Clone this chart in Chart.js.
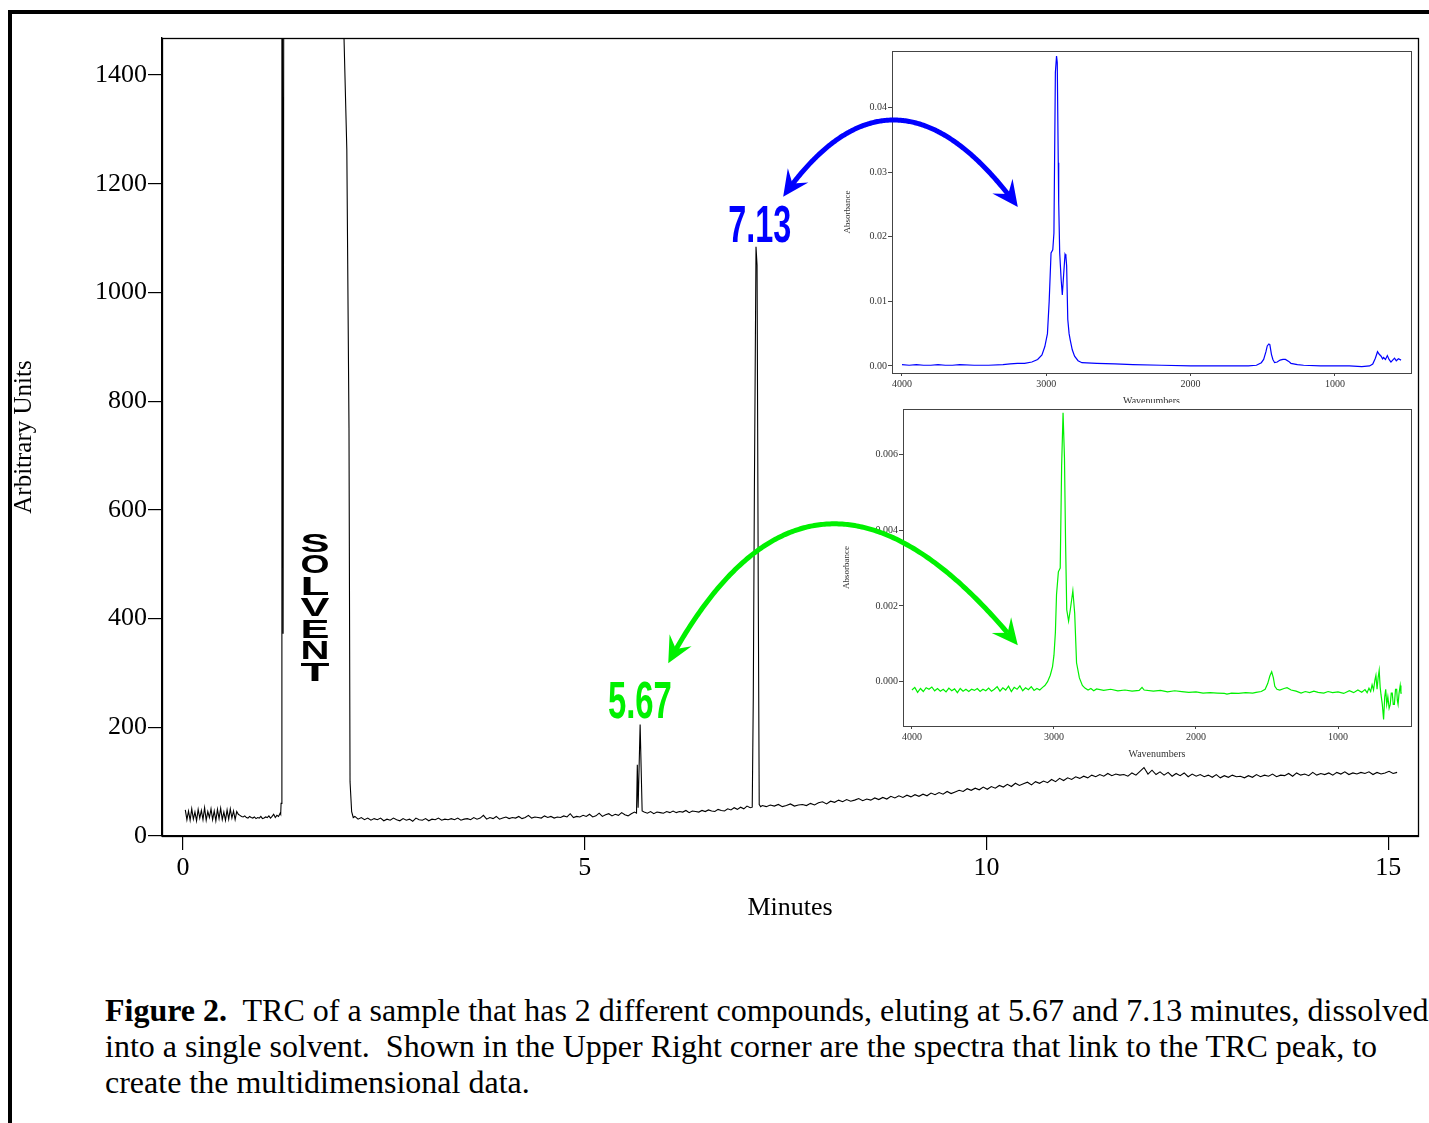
<!DOCTYPE html>
<html>
<head>
<meta charset="utf-8">
<script src="https://cdn.jsdelivr.net/npm/chart.js@4.4.1/dist/chart.umd.min.js"></script>
<style>
html, body { margin: 0; padding: 0; background: #fff; }
body { width: 1429px; height: 1123px; position: relative; overflow: hidden; }
#frame { position: absolute; left: 8px; top: 10px; width: 1500px; height: 1200px; border-top: 4px solid #000; border-left: 4px solid #000; }
canvas { position: absolute; }
#main { left: 0; top: 0; z-index: 3; }
#ir1 { left: 840px; top: 40px; z-index: 1; }
#ir2 { left: 840px; top: 402px; z-index: 2; }
#caption { position: absolute; left: 105px; top: 992px; font-family: "Liberation Serif", "Times New Roman", serif; font-size: 32px; line-height: 36px; white-space: pre; color: #000; }
</style>
</head>
<body>
<div id="frame"></div>
<canvas id="ir1" width="580" height="363"></canvas>
<canvas id="ir2" width="580" height="362"></canvas>
<canvas id="main" width="1429" height="930"></canvas>
<div id="caption"><b>Figure 2.</b>  TRC of a sample that has 2 different compounds, eluting at 5.67 and 7.13 minutes, dissolved
into a single solvent.  Shown in the Upper Right corner are the spectra that link to the TRC peak, to
create the multidimensional data.</div>

<script>
// --- datos del cromatograma (TRC) ---
const xTicksMain = [0, 5, 10, 15];
const yTicksMain = [0, 200, 400, 600, 800, 1000, 1200, 1400];

// ruido inicial, desde 0.03 min cada 0.02 min
const earlyNoise = [48,30,46,29,50,31,44,28,49,33, 47,30,52,29,45,34,50,30,46,28,
  49,32,51,30,44,29,48,31,50,33, 46,30,45,40,
  38,36,35,37,34,33,36,34,33,35, 32,34,33,36,32,33,35,34,37,33, 36,40,34,38,36,42];

// pico del disolvente (sale por arriba)
const solventMinutes = [1.217, 1.222, 1.232, 1.247, 1.262, 2.000, 2.005, 2.040, 2.067, 2.080, 2.100, 2.120];
const solventSignal  = [40, 60, 2400, 372, 2600, 2600, 1468, 1262, 750, 100, 45, 34];

// linea base 2.14 -> 5.62 cada 0.04
const midBaseline = [36,31,34,30,33,29,32,30,33,28, 31,29,33,30,28,32,29,31,27,33,
  30,29,32,28,31,30,33,29,31,30, 32,30,33,29,31,32,30,34,31,33,
  38,31,34,32,36,31,33,35,32,34, 33,36,32,34,38,33,35,34,33,37,
  34,36,33,35,34,37,35,41,34,36, 35,38,36,40,35,37,42,36,39,41,
  37,40,38,43,39,37,41,44];

const peak567Minutes = [5.645, 5.655, 5.665, 5.690, 5.715];
const peak567Signal  = [42, 131, 52, 205, 46];

// linea base 5.74 -> 7.06 cada 0.04
const preBaseline = [44,42,45,41,44,43,42,45,43,46, 43,45,44,47,43,46,45,44,47,45,
  48,46,45,49,47,46,50,48,52,49, 53,50,55,52];

const peak713Minutes = [7.085, 7.098, 7.112, 7.132, 7.145, 7.160, 7.172, 7.190];
const peak713Signal  = [53, 252, 640, 1084, 1050, 452, 58, 54];

// linea base 7.21 -> 15.11 cada 0.05
const lateBaseline = [56,54,57,55,58,54,56,59,55,57, 58,56,60,57,61,63,59,64,62,66,
  63,67,64,66,69,65,68,66,70,67, 71,68,73,70,74,71,75,72,76,73,
  77,74,79,76,80,77,82,78,81,84, 82,87,84,88,85,90,86,91,88,93,
  90,95,91,97,93,96,99,94,100,97, 101,98,104,100,106,102,107,104,109,106,
  110,107,112,109,113,110,115,111,114,112, 113,110,116,112,119,126,114,121,113,118,
  112,117,110,115,111,116,109,114,110,113, 109,112,108,113,107,111,108,112,109,110,
  107,111,108,113,109,112,110,114,109,112, 111,115,110,116,112,114,111,117,112,115,
  113,116,112,117,114,118,113,116,114,117, 115,118,113,117,114,116,119,115,117];

// --- espectro IR del pico 7.13 (azul) ---
const blueWavenumbers = [4000,3950,3900,3850,3800,3750,3700,3650,3600,3500,3400,3300,3250,3200,3150,3100,3060,3030,3010,2992,
  2980,2967,2955,2947,2937,2929,2924,2917,2914,2907,2897,2889,2879,2870,2864,2859,2851,2842,2834,2820,
  2804,2780,2753,2650,2526,2400,2200,2000,1800,1600,1544,1510,1494,1478,1469,1458,1451,1440,1430,1418,
  1400,1380,1360,1343,1320,1305,1260,1217,1100,1000,900,814,760,738,720,705,693,680,670,663,
  650,637,625,612,600,587,575,560,542];
const blueAbsorbance = [0.0002,0.0001,0.0002,0.0001,0.0001,0.0002,0.0001,0.0001,0.0002,0.0001,0.0001,0.0002,0.0003,0.0004,0.0004,0.0006,0.0010,0.0017,0.0030,0.0050,
  0.0100,0.0175,0.0180,0.0206,0.0455,0.0480,0.0470,0.0315,0.0253,0.0175,0.0134,0.0110,0.0144,0.0173,0.0170,0.0155,0.0072,0.0050,0.0040,0.0025,
  0.0015,0.0008,0.0005,0.0004,0.0003,0.0002,0.0001,0.0000,0.0000,0.0000,0.0001,0.0005,0.0010,0.0022,0.0031,0.0034,0.0033,0.0018,0.0010,0.0005,
  0.0006,0.0009,0.0010,0.0010,0.0007,0.0004,0.0002,0.0001,0.0000,0.0000,0.0000,-0.0001,0.0000,0.0003,0.0012,0.0022,0.0018,0.0015,0.0011,0.0013,
  0.0010,0.0016,0.0010,0.0006,0.0009,0.0012,0.0008,0.0011,0.0009];

// --- espectro IR del pico 5.67 (verde) ---
const greenWavenumbers = [4000,3980,3960,3940,3920,3900,3880,3860,3840,3820,3800,3780,3760,3740,3720,3700,3680,3660,3640,3620,
  3600,3580,3560,3540,3520,3500,3480,3460,3440,3420,3400,3380,3360,3340,3320,3300,3280,3260,3240,3220,
  3200,3180,3160,3140,3120,3100,3080,3064,3045,3026,3010,3000,2990,2982,2969,2956,2946,2936,2926,2918,
  2910,2897,2885,2867,2854,2841,2821,2800,2782,2760,2740,2720,2700,2650,2600,2550,2500,2450,2400,2380,
  2365,2300,2250,2200,2150,2100,2050,2000,1950,1900,1850,1800,1782,1750,1700,1650,1600,1577,1540,1513,
  1495,1480,1467,1455,1445,1430,1410,1380,1359,1330,1295,1260,1230,1200,1170,1140,1100,1070,1038,1000,
  960,920,890,860,833,810,795,782,770,760,750,740,733,725,717,710,703,697,688,679,
  671,664,657,649,640,632,625,618,611,603,595,587,582,577,570,562,557,551];
const greenAbsorbance = [-0.00022,-0.00015,-0.00028,-0.00018,-0.00026,-0.00016,-0.0002,-0.00014,-0.00024,-0.00018,
  -0.00025,-0.0002,-0.00027,-0.00017,-0.00024,-0.00019,-0.00029,-0.00018,-0.00025,-0.0002,
  -0.00026,-0.0002,-0.00023,-0.00018,-0.00026,-0.0002,-0.00024,-0.00017,-0.00025,-0.0002,
  -0.00013,-0.00025,-0.00016,-0.00022,-0.00012,-0.00026,-0.00015,-0.0002,-0.00011,-0.00024,
  -0.00016,-0.00021,-0.00013,-0.00023,-0.00018,-0.00022,-0.00015,-0.0001,0.0,0.00017,
  0.0004,0.0007,0.0013,0.0023,0.0029,0.0030,0.0057,0.0071,0.0059,0.0036,
  0.0019,0.0016,0.0019,0.0024,0.0018,0.0005,0.0001,-0.0001,-0.00017,-0.00022,
  -0.00018,-0.00024,-0.00019,-0.00023,-0.0002,-0.00024,-0.00022,-0.00025,-0.00023,-0.00015,
  -0.00022,-0.00025,-0.00023,-0.00027,-0.00024,-0.00026,-0.00028,-0.00027,-0.0003,-0.00029,
  -0.0003,-0.00031,-0.00033,-0.0003,-0.00031,-0.00029,-0.0003,-0.00028,-0.00026,-0.0002,
  -0.00005,0.00015,0.00026,0.0001,-0.00012,-0.0002,-0.00022,-0.00018,-0.00016,-0.00022,
  -0.00025,-0.0003,-0.00026,-0.00029,-0.00025,-0.00028,-0.0003,-0.00026,-0.00029,-0.00027,
  -0.00031,-0.00024,-0.00029,-0.00022,-0.00028,-0.00021,-0.00029,-0.00017,-0.00026,-0.00008,
  -0.00022,0.00005,0.00017,-0.0002,0.00012,0.0003,-0.00015,-0.00035,-0.0006,-0.001,
  -0.0004,-0.0002,-0.0006,-0.0004,-0.0007,-0.0006,-0.0003,-0.0003,-0.0006,-0.0006,
  -0.0002,-0.0002,-0.0005,-0.0006,-0.0003,-0.0001,-0.0003,-0.0003];

const irYTicks1 = [0, 0.01, 0.02, 0.03, 0.04];
const irYTicks2 = [0, 0.002, 0.004, 0.006];
const irXTicks = [4000, 3000, 2000, 1000];

// anotaciones en coordenadas del cromatograma [min, señal]
const blueArrow  = [[7.47, 1176], [8.89, 1317], [10.39, 1157]];
const greenArrow = [[6.04, 318], [8.03, 574], [10.39, 351]];

const SERIF = "'Liberation Serif', 'Times New Roman', serif";
const SANS = "'Liberation Sans', Arial, sans-serif";

function seg(start, step, vals) {
  return vals.map((v, i) => ({ x: +(start + i * step).toFixed(3), y: v }));
}
function pairs(xs, ys) {
  return xs.map((x, i) => ({ x: x, y: ys[i] }));
}

const chromData = [].concat(
  seg(0.03, 0.02, earlyNoise),
  pairs(solventMinutes, solventSignal),
  seg(2.14, 0.04, midBaseline),
  pairs(peak567Minutes, peak567Signal),
  seg(5.74, 0.04, preBaseline),
  pairs(peak713Minutes, peak713Signal),
  seg(7.21, 0.05, lateBaseline)
);

// marco del area de trazado
const boxPlugin = {
  id: 'boxPlugin',
  afterDraw(chart, args, opts) {
    const a = chart.chartArea, ctx = chart.ctx;
    ctx.save();
    ctx.strokeStyle = opts.color || '#000';
    ctx.lineWidth = opts.width || 1;
    ctx.strokeRect(Math.round(a.left) + 0.5, Math.round(a.top) + 0.5, Math.round(a.right - a.left), Math.round(a.bottom - a.top));
    ctx.restore();
  }
};

function arrowHead(ctx, tip, from) {
  const ang = Math.atan2(tip.y - from.y, tip.x - from.x);
  const L = 26, W = 12.5;
  ctx.save();
  ctx.translate(tip.x, tip.y);
  ctx.rotate(ang);
  ctx.beginPath();
  ctx.moveTo(0, 0);
  ctx.lineTo(-L, -W);
  ctx.lineTo(-L * 0.62, 0);
  ctx.lineTo(-L, W);
  ctx.closePath();
  ctx.fill();
  ctx.restore();
}

function drawArrow(ctx, xs, ys, pts, color) {
  const p = pts.map(q => ({ x: xs.getPixelForValue(q[0]), y: ys.getPixelForValue(q[1]) }));
  const p0 = p[0], ap = p[1], p2 = p[2];
  const c = { x: 2 * ap.x - (p0.x + p2.x) / 2, y: 2 * ap.y - (p0.y + p2.y) / 2 };
  const at = t => ({
    x: (1 - t) * (1 - t) * p0.x + 2 * (1 - t) * t * c.x + t * t * p2.x,
    y: (1 - t) * (1 - t) * p0.y + 2 * (1 - t) * t * c.y + t * t * p2.y
  });
  ctx.save();
  ctx.strokeStyle = color;
  ctx.fillStyle = color;
  ctx.lineWidth = 5;
  ctx.lineJoin = 'round';
  ctx.beginPath();
  let started = false;
  for (let i = 0; i <= 200; i++) {
    const q = at(i / 200);
    if (Math.hypot(q.x - p0.x, q.y - p0.y) < 14 || Math.hypot(q.x - p2.x, q.y - p2.y) < 14) continue;
    if (!started) { ctx.moveTo(q.x, q.y); started = true; } else ctx.lineTo(q.x, q.y);
  }
  ctx.stroke();
  arrowHead(ctx, p0, c);
  arrowHead(ctx, p2, c);
  ctx.restore();
}

function condensedLabel(ctx, text, cx, baseline, width, capH, color) {
  const size = capH / 0.716;
  ctx.save();
  ctx.font = 'bold ' + size + 'px ' + SANS;
  const w = ctx.measureText(text).width;
  ctx.translate(cx, baseline);
  ctx.scale(width / w, 1);
  ctx.fillStyle = color;
  ctx.textAlign = 'center';
  ctx.textBaseline = 'alphabetic';
  ctx.fillText(text, 0, 0);
  ctx.restore();
}

const notesPlugin = {
  id: 'notesPlugin',
  afterDraw(chart) {
    const ctx = chart.ctx, xs = chart.scales.x, ys = chart.scales.y;
    drawArrow(ctx, xs, ys, blueArrow, '#0000ff');
    drawArrow(ctx, xs, ys, greenArrow, '#00f000');

    condensedLabel(ctx, '7.13', xs.getPixelForValue(7.18), ys.getPixelForValue(1093), 63, 37, '#0000ff');
    condensedLabel(ctx, '5.67', xs.getPixelForValue(5.687), ys.getPixelForValue(217), 64, 37, '#00f000');

    // SOLVENT en vertical, letra por letra
    const word = 'SOLVENT';
    const top = ys.getPixelForValue(559), bottom = ys.getPixelForValue(283);
    const pitch = (bottom - top) / word.length;
    const cx = xs.getPixelForValue(1.644);
    ctx.save();
    ctx.fillStyle = '#000';
    ctx.font = '900 40px ' + SANS;
    ctx.textAlign = 'center';
    ctx.textBaseline = 'alphabetic';
    for (let i = 0; i < word.length; i++) {
      const ch = word[i];
      const w = ctx.measureText(ch).width;
      ctx.save();
      ctx.translate(cx, top + pitch * (i + 1) - 1.5);
      ctx.scale(29 / w, (pitch * 0.86) / (0.716 * 40));
      ctx.fillText(ch, 0, 0);
      ctx.restore();
    }
    ctx.restore();
  }
};

new Chart(document.getElementById('main'), {
  type: 'line',
  data: {
    datasets: [{
      data: chromData,
      borderColor: '#000',
      borderWidth: 1.1,
      pointRadius: 0,
      tension: 0
    }]
  },
  options: {
    responsive: false,
    animation: false,
    events: [],
    parsing: false,
    layout: { padding: { left: 0, top: 38, right: 11, bottom: 0 } },
    plugins: { legend: { display: false }, tooltip: { enabled: false }, boxPlugin: { color: '#000', width: 1.3 } },
    scales: {
      x: {
        type: 'linear', min: -0.26, max: 15.37,
        afterBuildTicks: s => { s.ticks = xTicksMain.map(v => ({ value: v })); },
        afterFit: s => { s.height = 94; },
        grid: { drawOnChartArea: false, tickLength: 14, color: '#000', lineWidth: 1.2 },
        border: { color: '#000', width: 1.4 },
        ticks: { padding: 3, color: '#000', font: { family: SERIF, size: 26 }, maxRotation: 0, autoSkip: false, callback: v => String(v) },
        title: { display: true, text: 'Minutes', color: '#000', font: { family: SERIF, size: 26 }, padding: { top: 0, bottom: 6 } }
      },
      y: {
        min: 0, max: 1468,
        afterBuildTicks: s => { s.ticks = yTicksMain.map(v => ({ value: v })); },
        afterFit: s => { s.width = 162; },
        grid: { drawOnChartArea: false, tickLength: 14, color: '#000', lineWidth: 1.2 },
        border: { color: '#000', width: 1.4 },
        ticks: { padding: 1, color: '#000', font: { family: SERIF, size: 26 }, callback: v => String(v) },
        title: { display: true, text: 'Arbitrary Units', color: '#000', font: { family: SERIF, size: 25 }, padding: { top: 9, bottom: 0 } }
      }
    }
  },
  plugins: [boxPlugin, notesPlugin]
});

function irChart(id, xs, ys, color, xr, yr, yTicks, digits, pad, yWidth, xHeight, xTitlePad, yTitlePad) {
  return new Chart(document.getElementById(id), {
    type: 'line',
    data: { datasets: [{ data: pairs(xs, ys), borderColor: color, borderWidth: 1.2, pointRadius: 0, tension: 0 }] },
    options: {
      responsive: false,
      animation: false,
      events: [],
      parsing: false,
      layout: { padding: pad },
      plugins: { legend: { display: false }, tooltip: { enabled: false }, boxPlugin: { color: '#444', width: 1 } },
      scales: {
        x: {
          type: 'linear', reverse: true, min: xr[0], max: xr[1],
          afterBuildTicks: s => { s.ticks = irXTicks.map(v => ({ value: v })); },
          afterFit: s => { s.height = xHeight; },
          grid: { drawOnChartArea: false, tickLength: 3, color: '#444' },
          border: { color: '#444', width: 1 },
          ticks: { padding: 2, color: '#333', font: { family: SERIF, size: 10 }, maxRotation: 0, autoSkip: false, callback: v => String(v) },
          title: { display: true, text: 'Wavenumbers', color: '#333', font: { family: SERIF, size: 10 }, padding: { top: 0, bottom: xTitlePad } }
        },
        y: {
          min: yr[0], max: yr[1],
          afterBuildTicks: s => { s.ticks = yTicks.map(v => ({ value: v })); },
          afterFit: s => { s.width = yWidth; },
          grid: { drawOnChartArea: false, tickLength: 4, color: '#444' },
          border: { color: '#444', width: 1 },
          ticks: { padding: 1, color: '#333', font: { family: SERIF, size: 10 }, callback: v => v.toFixed(digits) },
          title: { display: true, text: 'Absorbance', color: '#333', font: { family: SERIF, size: 9 }, padding: { top: yTitlePad, bottom: 0 } }
        }
      }
    },
    plugins: [boxPlugin]
  });
}

irChart('ir1', blueWavenumbers, blueAbsorbance, '#0000ff', [473, 4069], [-0.0011, 0.0488], irYTicks1, 2,
  { left: 0, top: 11, right: 9, bottom: 0 }, 52, 30, -4, 2);
irChart('ir2', greenWavenumbers, greenAbsorbance, '#00f000', [486, 4063], [-0.00117, 0.0072], irYTicks2, 3,
  { left: 0, top: 2, right: 9, bottom: 0 }, 63, 38, 4, 1);
</script>
</body>
</html>
